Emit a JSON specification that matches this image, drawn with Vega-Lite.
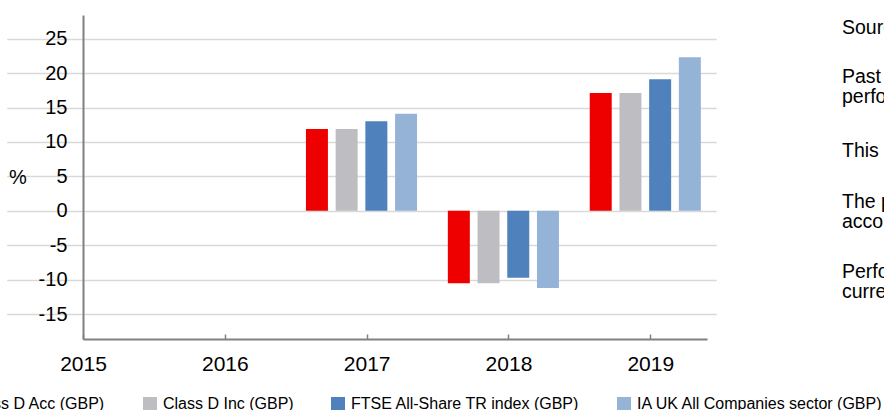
{
  "$schema": "https://vega.github.io/schema/vega-lite/v6.json",
  "width": 624,
  "height": 324,
  "autosize": {"type": "none"},
  "padding": {"left": 83, "top": 15, "right": 177, "bottom": 71},
  "background": "white",
  "config": {
    "view": {"stroke": null},
    "font": "Liberation Sans",
    "axis": {"labelFont": "Liberation Sans", "titleFont": "Liberation Sans", "labelColor": "#000000", "titleColor": "#000000"},
    "legend": {"labelFont": "Liberation Sans"}
  },
  "resolve": {"scale": {"x": "independent"}, "axis": {"x": "independent"}},
  "layer": [
    {
      "data": {
        "values": [
          {"year": "2017", "series": "Class D Acc (GBP)", "value": 11.9},
          {"year": "2017", "series": "Class D Inc (GBP)", "value": 11.9},
          {"year": "2017", "series": "FTSE All-Share TR index (GBP)", "value": 13.0},
          {"year": "2017", "series": "IA UK All Companies sector (GBP)", "value": 14.1},
          {"year": "2018", "series": "Class D Acc (GBP)", "value": -10.5},
          {"year": "2018", "series": "Class D Inc (GBP)", "value": -10.5},
          {"year": "2018", "series": "FTSE All-Share TR index (GBP)", "value": -9.7},
          {"year": "2018", "series": "IA UK All Companies sector (GBP)", "value": -11.2},
          {"year": "2019", "series": "Class D Acc (GBP)", "value": 17.1},
          {"year": "2019", "series": "Class D Inc (GBP)", "value": 17.1},
          {"year": "2019", "series": "FTSE All-Share TR index (GBP)", "value": 19.1},
          {"year": "2019", "series": "IA UK All Companies sector (GBP)", "value": 22.3}
        ]
      },
      "mark": {"type": "bar"},
      "encoding": {
        "x": {
          "field": "year",
          "type": "ordinal",
          "scale": {"domain": ["2015", "2016", "2017", "2018", "2019"], "range": [-76.25, 633.25], "paddingInner": 0.217, "paddingOuter": 0.1085},
          "axis": null
        },
        "xOffset": {
          "field": "series",
          "type": "nominal",
          "sort": ["Class D Acc (GBP)", "Class D Inc (GBP)", "FTSE All-Share TR index (GBP)", "IA UK All Companies sector (GBP)"],
          "scale": {"paddingInner": 0.26, "paddingOuter": 0}
        },
        "y": {
          "field": "value",
          "type": "quantitative",
          "scale": {"domain": [-18.61, 28.44], "nice": false, "zero": false},
          "axis": {
            "values": [-15, -10, -5, 0, 5, 10, 15, 20, 25],
            "labelExpr": "replace(datum.label, '−', '-')",
            "grid": true,
            "gridColor": "#D9D9D9",
            "gridWidth": 1.5,
            "domain": true,
            "domainColor": "#808080",
            "domainWidth": 2,
            "ticks": false,
            "labelPadding": 16,
            "labelFontSize": 20,
            "title": "%",
            "titleFontSize": 20,
            "titleFontWeight": "normal",
            "titleAngle": 0,
            "titleAlign": "center",
            "titleBaseline": "middle",
            "titleX": -65.5,
            "titleY": 162
          }
        },
        "color": {
          "field": "series",
          "type": "nominal",
          "scale": {
            "domain": ["Class D Acc (GBP)", "Class D Inc (GBP)", "FTSE All-Share TR index (GBP)", "IA UK All Companies sector (GBP)"],
            "range": ["#EE0000", "#BEBEC2", "#4F81BD", "#95B3D7"]
          },
          "legend": {
            "title": null,
            "orient": "none",
            "direction": "horizontal",
            "columns": 4,
            "legendX": -135,
            "legendY": 381,
            "padding": 0,
            "symbolType": "square",
            "symbolSize": 196,
            "symbolStrokeWidth": 0,
            "symbolOpacity": 1,
            "labelFontSize": 16,
            "labelColor": "#000000",
            "labelOffset": 5,
            "columnPadding": 36,
            "labelLimit": 400
          }
        }
      }
    },
    {
      "data": {"values": [{}]},
      "layer": [
        {
          "mark": {"type": "text", "align": "left", "baseline": "middle", "fontSize": 19.5, "lineHeight": 20, "color": "#000000", "font": "Liberation Sans"},
          "encoding": {
            "x": {
              "datum": 2020.352,
              "type": "quantitative",
              "scale": {"domain": [2015, 2019.4], "nice": false, "zero": false},
              "axis": {
                "values": [2015, 2016, 2017, 2018, 2019],
                "format": "d",
                "grid": false,
                "domain": true,
                "domainColor": "#808080",
                "domainWidth": 2,
                "ticks": true,
                "tickColor": "#808080",
                "tickWidth": 1.5,
                "tickSize": -5,
                "labelFontSize": 21,
                "labelPadding": 19,
                "labelFlush": false,
                "labelOverlap": false,
                "title": null
              }
            },
            "y": {"datum": 26.55, "type": "quantitative", "scale": {"domain": [-18.61, 28.44], "nice": false, "zero": false}},
            "text": {"value": "Source: Lipper"}
          }
        },
        {
          "mark": {"type": "text", "align": "left", "baseline": "middle", "fontSize": 19.5, "lineHeight": 20, "color": "#000000", "font": "Liberation Sans"},
          "encoding": {
            "x": {"datum": 2020.352, "type": "quantitative"},
            "y": {"datum": 19.44, "type": "quantitative"},
            "text": {"value": ["Past performance is not a guide to future", "performance."]}
          }
        },
        {
          "mark": {"type": "text", "align": "left", "baseline": "middle", "fontSize": 19.5, "lineHeight": 20, "color": "#000000", "font": "Liberation Sans"},
          "encoding": {
            "x": {"datum": 2020.352, "type": "quantitative"},
            "y": {"datum": 8.7, "type": "quantitative"},
            "text": {"value": "This is a marketing communication."}
          }
        },
        {
          "mark": {"type": "text", "align": "left", "baseline": "middle", "fontSize": 19.5, "lineHeight": 20, "color": "#000000", "font": "Liberation Sans"},
          "encoding": {
            "x": {"datum": 2020.352, "type": "quantitative"},
            "y": {"datum": 1.31, "type": "quantitative"},
            "text": {"value": ["The performance figures take into", "account all ongoing charges."]}
          }
        },
        {
          "mark": {"type": "text", "align": "left", "baseline": "middle", "fontSize": 19.5, "lineHeight": 20, "color": "#000000", "font": "Liberation Sans"},
          "encoding": {
            "x": {"datum": 2020.352, "type": "quantitative"},
            "y": {"datum": -8.85, "type": "quantitative"},
            "text": {"value": ["Performance may be affected by", "currency fluctuations."]}
          }
        }
      ]
    }
  ]
}
